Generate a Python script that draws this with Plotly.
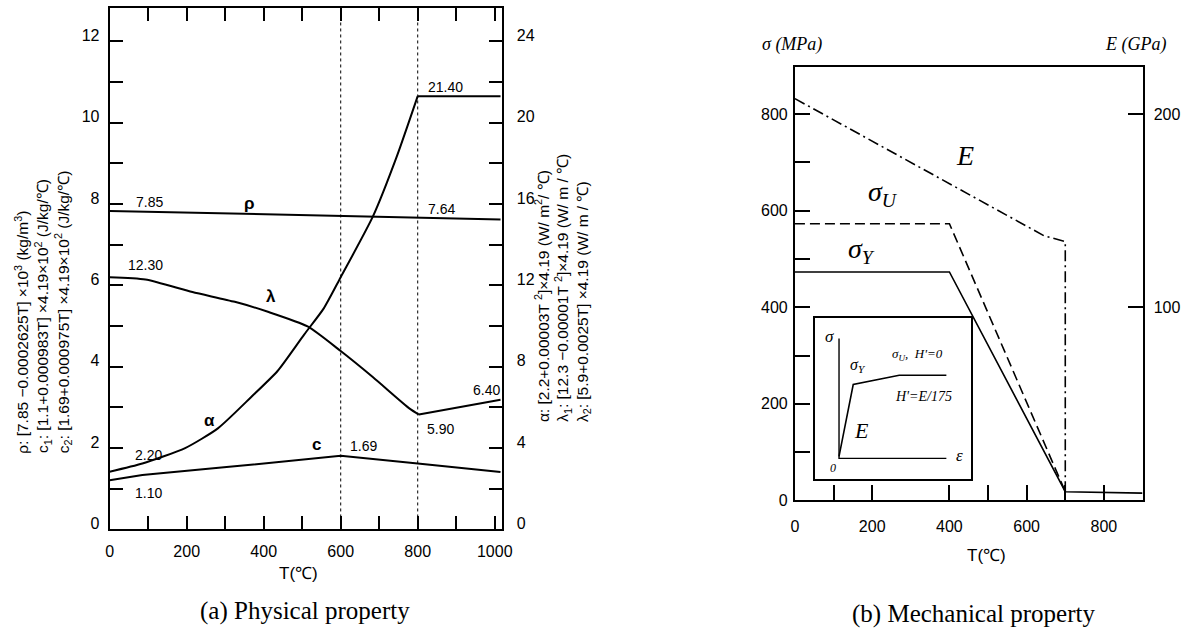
import plotly.graph_objects as go

W, H = 1194, 641

# ---------------- (a) Physical property data ----------------
T_rho = [0, 800, 1015]
rho = [7.83, 7.67, 7.62]                       # x10^3 kg/m3 (left axis)

T_c = [0, 85, 290, 600, 800, 1015]
c_val = [1.21, 1.34, 1.52, 1.81, 1.62, 1.41]   # left axis

T_alpha = [0, 85, 196, 281, 367, 436, 505, 556, 600, 684, 745, 800]
alpha = [2.84, 3.24, 4.0, 4.97, 6.5, 7.79, 9.58, 10.87, 12.4, 15.4, 18.3, 21.3]  # right axis
T_alpha2 = [800, 1015]
alpha2 = [21.3, 21.3]

T_lam = [0, 93, 215, 325, 411, 514, 600, 684, 779, 803]
lam = [12.4, 12.29, 11.67, 11.19, 10.7, 9.98, 8.77, 7.48, 5.94, 5.65]           # right axis
T_lam2 = [803, 1015]
lam2 = [5.65, 6.38]

T_marks = [600, 800]

x_ticks_a = list(range(0, 1001, 100))
x_text_a = [str(v) if v % 200 == 0 else "" for v in x_ticks_a]
yl_ticks = list(range(0, 13))
yl_text = [str(v) if v % 2 == 0 else "" for v in yl_ticks]
yr_ticks = list(range(0, 25, 2))
yr_text = [str(v) if v % 4 == 0 else "" for v in yr_ticks]

# ---------------- (b) Mechanical property data ----------------
T_sy = [0, 400, 700, 900]
sig_y = [473, 473, 18, 15]
T_su = [0, 400, 700]
sig_u = [573, 573, 18]
T_E = [0, 645, 700, 700]
E_val = [208, 137, 134, 4]

x_ticks_b = [0, 100, 200, 400, 500, 600, 700, 800, 900]
x_text_b = ["0", "", "200", "400", "", "600", "", "800", ""]
ys_ticks = list(range(0, 801, 100))
ys_text = [str(v) if v % 200 == 0 else "" for v in ys_ticks]
yE_ticks = [100, 200]

# inset (schematic stress-strain)
eps_ax = [15.6, 15.6, 84.4]
sig_ax = [87.1, 12.7, 12.7]
eps_curve = [15.6, 24.7, 54.2, 84.4]
sig_curve = [14.0, 58.6, 64.3, 64.3]

SANS = "Liberation Sans, Arial, sans-serif"
SERIF = "Liberation Serif, Times New Roman, serif"

def fx(px):
    return px / W

def fy(py):
    return 1 - py / H

fig = go.Figure()
lk = dict(color="black", width=2)

fig.add_trace(go.Scatter(x=T_rho, y=rho, mode="lines", line=lk, xaxis="x", yaxis="y"))
fig.add_trace(go.Scatter(x=T_c, y=c_val, mode="lines", line=lk, xaxis="x", yaxis="y"))
fig.add_trace(go.Scatter(x=T_alpha, y=alpha, mode="lines", line=dict(color="black", width=2, shape="spline", smoothing=0.6), xaxis="x", yaxis="y2"))
fig.add_trace(go.Scatter(x=T_alpha2, y=alpha2, mode="lines", line=lk, xaxis="x", yaxis="y2"))
fig.add_trace(go.Scatter(x=T_lam, y=lam, mode="lines", line=dict(color="black", width=2, shape="spline", smoothing=0.6), xaxis="x", yaxis="y2"))
fig.add_trace(go.Scatter(x=T_lam2, y=lam2, mode="lines", line=lk, xaxis="x", yaxis="y2"))
for t in T_marks:
    fig.add_trace(go.Scatter(x=[t, t], y=[0, 12.82], mode="lines",
                             line=dict(color="black", width=1, dash="dot"), xaxis="x", yaxis="y"))

lb = dict(color="black", width=1.6)
fig.add_trace(go.Scatter(x=T_sy, y=sig_y, mode="lines", line=lb, xaxis="x3", yaxis="y3"))
fig.add_trace(go.Scatter(x=T_su, y=sig_u, mode="lines", line=dict(color="black", width=1.6, dash="10px,5px"), xaxis="x3", yaxis="y3"))
fig.add_trace(go.Scatter(x=T_E, y=E_val, mode="lines", line=dict(color="black", width=1.6, dash="11px,4px,2px,4px"), xaxis="x3", yaxis="y4"))

fig.add_trace(go.Scatter(x=eps_ax, y=sig_ax, mode="lines", line=dict(color="black", width=1.4), xaxis="x5", yaxis="y5"))
fig.add_trace(go.Scatter(x=eps_curve, y=sig_curve, mode="lines", line=dict(color="black", width=1.6), xaxis="x5", yaxis="y5"))

tickfont = dict(family=SANS, size=16, color="black")
ax_common = dict(showline=True, linecolor="black", linewidth=2, ticks="inside",
                 tickcolor="black", tickwidth=2, showgrid=False, zeroline=False,
                 tickfont=tickfont, fixedrange=True)

fig.update_layout(
    width=W, height=H, margin=dict(l=0, r=0, t=0, b=0),
    paper_bgcolor="white", plot_bgcolor="white", showlegend=False,
    xaxis=dict(ax_common, domain=[fx(107), fx(504)], range=[0, 1018], anchor="y",
               tickvals=x_ticks_a, ticktext=x_text_a, ticklen=13, mirror="ticks",
               ticklabelstandoff=6),
    yaxis=dict(ax_common, domain=[fy(537), fy(8)], range=[0, 12.82], anchor="x",
               tickvals=yl_ticks, ticktext=yl_text, ticklen=13, ticklabelshift=-6,
               ticklabelstandoff=5),
    yaxis2=dict(ax_common, overlaying="y", side="right", range=[0, 25.64], anchor="x",
                tickvals=yr_ticks, ticktext=yr_text, ticklen=13, ticklabelshift=-6,
                ticklabelstandoff=10),
    xaxis3=dict(ax_common, domain=[fx(801), fx(1153)], range=[0, 900], anchor="y3",
                tickvals=x_ticks_b, ticktext=x_text_b, ticklen=15, mirror=True,
                ticklabelstandoff=10),
    yaxis3=dict(ax_common, domain=[fy(507.5), fy(67.7)], range=[0, 898], anchor="x3",
                tickvals=ys_ticks, ticktext=ys_text, ticklen=15, ticklabelstandoff=2),
    yaxis4=dict(ax_common, overlaying="y3", side="right", range=[0, 224.5], anchor="x3",
                tickvals=yE_ticks, ticklen=15, ticklabelstandoff=6),
    xaxis5=dict(domain=[fx(821), fx(979)], range=[0, 100], anchor="y5", showline=True,
                mirror=True, linecolor="black", linewidth=1.5, showticklabels=False,
                ticks="", showgrid=False, zeroline=False, fixedrange=True),
    yaxis5=dict(domain=[fy(485.7), fy(322.3)], range=[0, 100], anchor="x5", showline=True,
                mirror=True, linecolor="black", linewidth=1.5, showticklabels=False,
                ticks="", showgrid=False, zeroline=False, fixedrange=True),
)

ann = []
def A(text, x, y, xref="x", yref="y", size=14, family=SANS, **kw):
    d = dict(text=text, x=x, y=y, xref=xref, yref=yref, showarrow=False,
             xanchor="center", yanchor="middle",
             font=dict(family=family, size=size, color="black"))
    d.update(kw)
    ann.append(d)

# curve labels (a)
for txt, t, v in [("7.85", 103, 8.06), ("12.30", 93, 6.5), ("2.20", 100, 1.84),
                  ("1.10", 102, 0.89), ("1.69", 659, 2.04), ("21.40", 873, 10.87),
                  ("7.64", 863, 7.87), ("6.40", 978, 3.43), ("5.90", 860, 2.48)]:
    A(txt, t, v)
for txt, t, v in [("<b>ρ</b>", 363, 8.01), ("<b>λ</b>", 419, 5.72),
                  ("<b>α</b>", 260, 2.69), ("<b>c</b>", 537, 2.10)]:
    A(txt, t, v, size=17)

A("T(℃)", fx(298), fy(582), xref="paper", yref="paper", size=17)
A("T(℃)", fx(995), fy(563), xref="paper", yref="paper", size=17)

left_titles = [
    "ρ: [7.85 −0.0002625T] ×10<sup>3</sup> (kg/m<sup>3</sup>)",
    "c<sub>1</sub>: [1.1+0.000983T] ×4.19×10<sup>2</sup> (J/kg/℃)",
    "c<sub>2</sub>: [1.69+0.000975T] ×4.19×10<sup>2</sup> (J/kg/℃)",
]
for i, t in enumerate(left_titles):
    A(t, fx(18 + 21 * i), fy(462), xref="paper", yref="paper", size=15.5,
      textangle=-90, yanchor="bottom")

right_titles = [
    "α: [2.2+0.00003T <sup>2</sup>]×4.19 (W/ m<sup>2</sup>/ ℃)",
    "λ<sub>1</sub>: [12.3 −0.00001T <sup>2</sup>]×4.19 (W/ m / ℃)",
    "λ<sub>2</sub>: [5.9+0.0025T] ×4.19 (W/ m / ℃)",
]
for i, t in enumerate(right_titles):
    A(t, fx(545 + 21 * i), fy(430), xref="paper", yref="paper", size=15.5,
      textangle=-90, yanchor="bottom")

# (b) labels
A("<i>σ (MPa)</i>", fx(798), fy(45), xref="paper", yref="paper", size=18, family=SERIF)
A("<i>E (GPa)</i>", fx(1146), fy(45), xref="paper", yref="paper", size=18, family=SERIF)
A("<i>E</i>", fx(973), fy(158), xref="paper", yref="paper", size=28, family=SERIF)
A("<i>σ</i><sub><i>U</i></sub>", fx(890), fy(196), xref="paper", yref="paper", size=28, family=SERIF)
A("<i>σ</i><sub><i>Y</i></sub>", fx(868), fy(254), xref="paper", yref="paper", size=28, family=SERIF)

# inset labels
A("<i>σ</i>", 9.5, 88.4, xref="x5", yref="y5", size=17, family=SERIF)
A("<i>σ</i><sub><i>Y</i></sub>", 27.5, 70.5, xref="x5", yref="y5", size=16, family=SERIF)
A("<i>σ</i><sub><i>U</i></sub><i>,  H'=0</i>", 66, 77, xref="x5", yref="y5", size=13, family=SERIF)
A("<i>H'=E/175</i>", 69.6, 51.4, xref="x5", yref="y5", size=14, family=SERIF)
A("<i>E</i>", 29.7, 30, xref="x5", yref="y5", size=22, family=SERIF)
A("<i>ε</i>", 92.8, 14.5, xref="x5", yref="y5", size=17, family=SERIF)
A("<i>0</i>", 12, 6.5, xref="x5", yref="y5", size=12, family=SERIF)

# captions
A("(a) Physical property", fx(305), fy(620), xref="paper", yref="paper", size=25, family=SERIF)
A("(b) Mechanical property", fx(982), fy(623), xref="paper", yref="paper", size=25, family=SERIF)

fig.update_layout(annotations=ann)
fig.write_html("out.html")
